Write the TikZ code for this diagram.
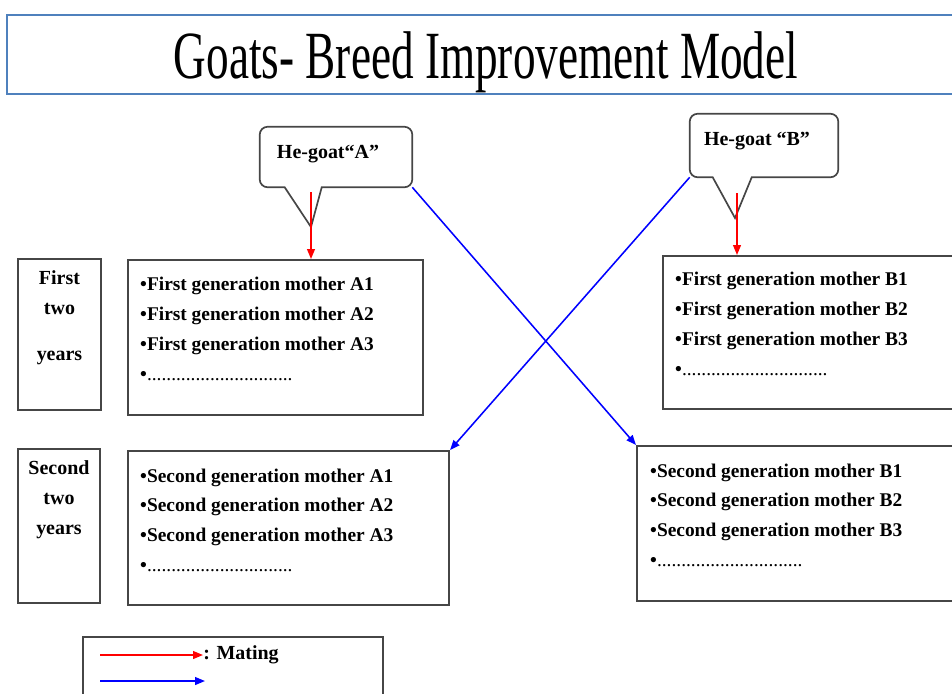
\documentclass[tikz,border=0pt]{standalone}
\usepackage{fontspec}
\usepackage{graphicx}
\setmainfont{Liberation Serif}
\usetikzlibrary{arrows.meta,positioning}
\definecolor{titleblue}{RGB}{79,129,189}
\definecolor{boxgray}{RGB}{70,70,70}
\begin{document}
\begin{tikzpicture}[x=0.025cm, y=-0.025cm,
	every node/.style={font=\bfseries\fontsize{14.2}{21.3}\selectfont},
	framebox/.style={draw=boxgray, line width=1.4pt, inner sep=0pt, anchor=north west},
	mothertext/.style={align=left, inner sep=0pt, font=\bfseries\fontsize{13.8}{21.3}\selectfont},
	yeartext/.style={align=center, inner sep=0pt},
	calloutline/.style={draw=boxgray, line width=1.2pt},
	mating/.style={draw=red, line width=1.1pt, -{Triangle[length=7pt,width=5.5pt]}},
	crossing/.style={draw=blue, line width=1.1pt, -{Triangle[length=7pt,width=5.5pt]}}]
	\useasboundingbox ( 0, 0 ) rectangle ( 952, 693 );

	% заголовок
	\node [draw=titleblue, line width=1.8pt, minimum width=23.825cm, minimum height=1.975cm] (title) at ( 483.5, 54.5 ) {};
	\node [anchor=base, font=\mdseries\fontsize{48}{48}\selectfont] (titletxt) at ( 486, 78 )
		{\scalebox{0.67}[1]{Goats- Breed Improvement Model}};

	% козёл A
	\coordinate (tipA) at ( 311, 227 );
	\node [minimum width=3.8cm, minimum height=1.5cm, inner sep=0pt] (heA) at ( 336, 157 ) {};
	\draw [calloutline] ([xshift=0.625cm]heA.south west) -- (tipA) -- ([xshift=1.55cm]heA.south west)
		[rounded corners=0.2cm] -- (heA.south east) -- (heA.north east) -- (heA.north west) -- (heA.south west) [sharp corners] -- cycle;
	\node (heAt) at ( 328, 154 ) {He-goat“A”};

	% козёл B
	\coordinate (tipB) at ( 735, 218 );
	\node [minimum width=3.7cm, minimum height=1.575cm, inner sep=0pt] (heB) at ( 764, 145.5 ) {};
	\draw [calloutline] ([xshift=0.575cm]heB.south west) -- (tipB) -- ([xshift=1.55cm]heB.south west)
		[rounded corners=0.2cm] -- (heB.south east) -- (heB.north east) -- (heB.north west) -- (heB.south west) [sharp corners] -- cycle;
	\node (heBt) at ( 757, 141 ) {He-goat “B”};

	% годы
	\node [framebox, minimum width=2.075cm, minimum height=3.775cm] (yr1) at ( 17, 258 ) {};
	\node [yeartext, below=8.5pt of yr1.north] (yr1t) {First\\two\\[12pt]years};
	\node [framebox, minimum width=2.05cm, minimum height=3.85cm] (yr2) at ( 17, 448 ) {};
	\node [yeartext, below=8.5pt of yr2.north] (yr2t) {Second\\two\\years};

	% первое поколение
	\node [framebox, minimum width=7.375cm, minimum height=3.875cm] (a1) at ( 127, 259 ) {};
	\node [mothertext, below right=12.8pt and 9.2pt of a1.north west] (a1t)
		{\textbullet First generation mother A1\\\textbullet First generation mother A2\\\textbullet First generation mother A3\\\textbullet{\mdseries ..............................}};
	\node [framebox, minimum width=8cm, minimum height=3.825cm] (b1) at ( 662, 255 ) {};
	\node [mothertext, below right=11.7pt and 9.2pt of b1.north west] (b1t)
		{\textbullet First generation mother B1\\\textbullet First generation mother B2\\\textbullet First generation mother B3\\\textbullet{\mdseries ..............................}};

	% второе поколение
	\node [framebox, minimum width=8.025cm, minimum height=3.85cm] (a2) at ( 127, 450 ) {};
	\node [mothertext, below right=13pt and 9.2pt of a2.north west] (a2t)
		{\textbullet Second generation mother A1\\\textbullet Second generation mother A2\\\textbullet Second generation mother A3\\\textbullet{\mdseries ..............................}};
	\node [framebox, minimum width=8.5cm, minimum height=3.875cm] (b2) at ( 636, 445 ) {};
	\node [mothertext, below right=13pt and 9.9pt of b2.north west] (b2t)
		{\textbullet Second generation mother B1\\\textbullet Second generation mother B2\\\textbullet Second generation mother B3\\\textbullet{\mdseries ..............................}};

	% стрелки
	\coordinate (matA) at ( 311, 192 );
	\coordinate (matB) at ( 737, 193 );
	\draw [mating] (matA) -- (matA |- a1.north);
	\draw [mating] (matB) -- (matB |- b1.north);
	\draw [crossing] (heA.south east) -- (b2.north west);
	\draw [crossing] (heB.south west) -- (a2.north east);

	% легенда
	\node [framebox, minimum width=7.5cm, minimum height=2cm] (legend) at ( 82, 636 ) {};
	\coordinate (redS) at ( 100, 655 );
	\node [anchor=west, inner sep=0pt] (matingtxt) at ( 203, 655 ) {: Mating};
	\draw [mating] (redS) -- (redS -| matingtxt.west);
	\coordinate (blueS) at ( 100, 681 );
	\coordinate (blueE) at ( 205, 681 );
	\draw [crossing] (blueS) -- (blueE);
\end{tikzpicture}
\end{document}
